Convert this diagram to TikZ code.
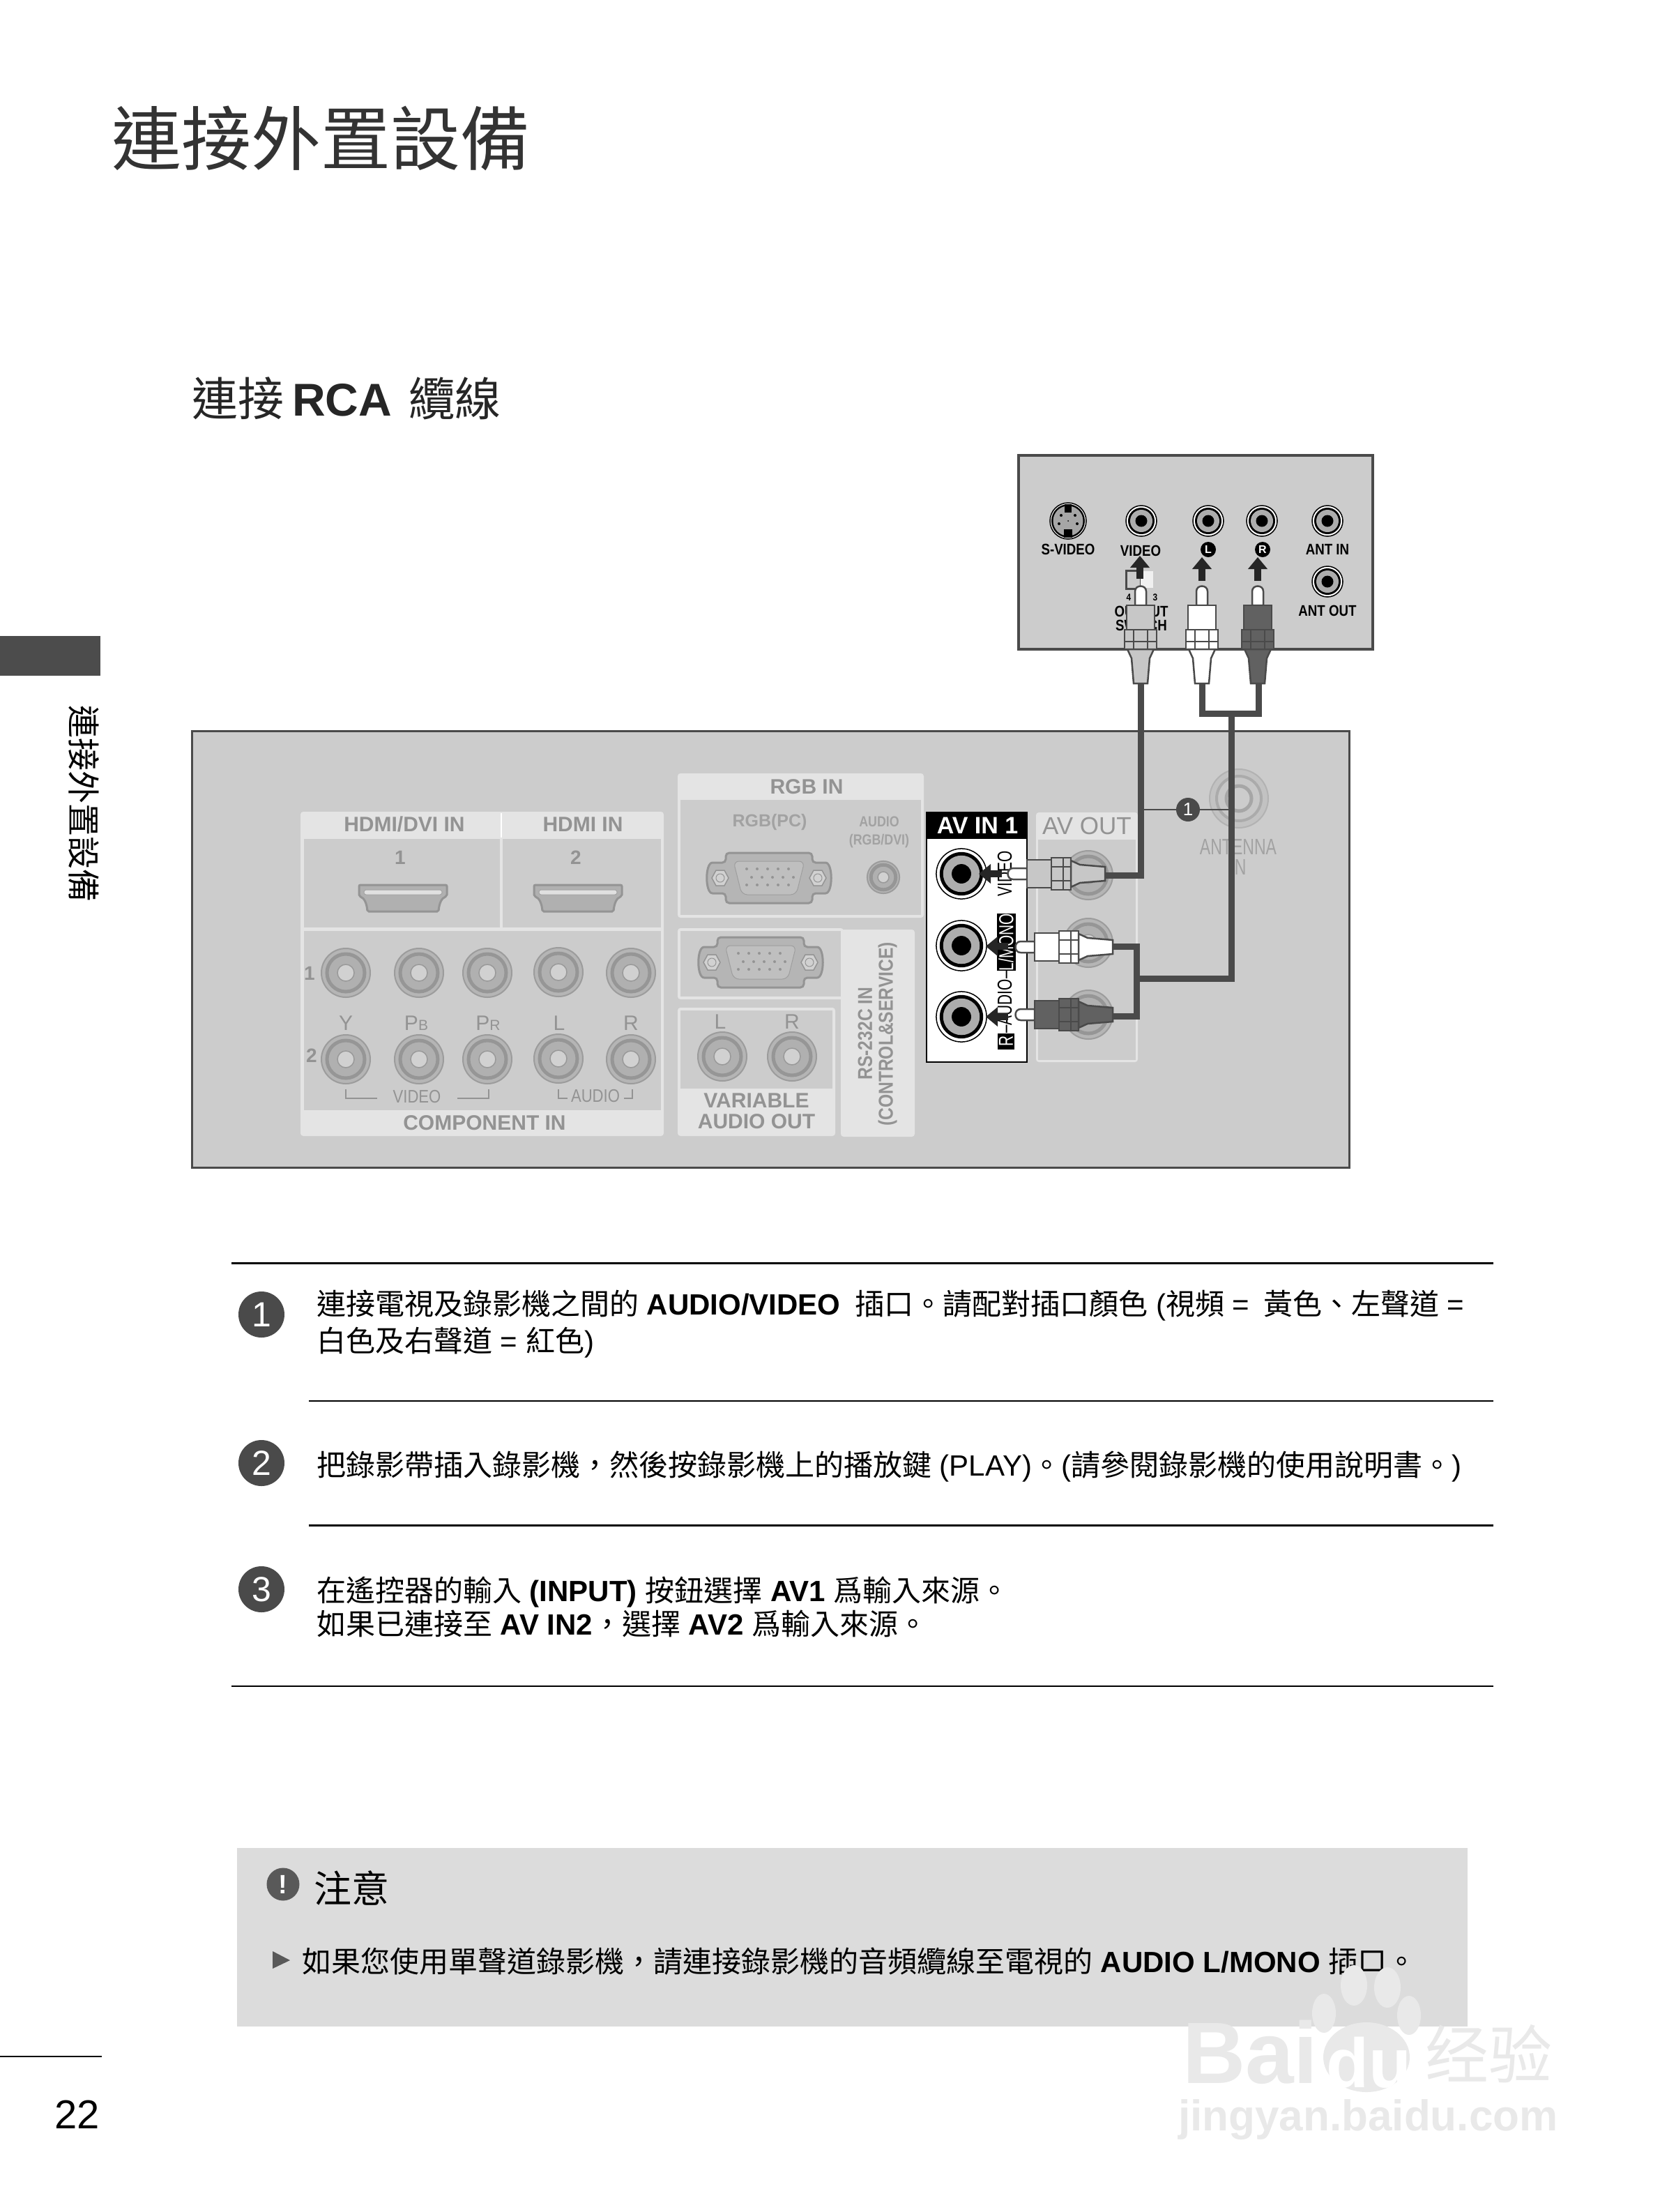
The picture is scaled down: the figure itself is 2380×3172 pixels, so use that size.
\documentclass[tikz,border=0pt]{standalone}
\usepackage{fontspec}
\setmainfont{Liberation Sans}
\newfontfamily\narrowfont[FakeStretch=0.85]{Liberation Sans}
\newfontfamily\tallfont[FakeStretch=0.72]{Liberation Sans}
\newfontfamily\cjkfont{Noto Sans CJK TC}
\usetikzlibrary{arrows.meta}

\newcommand{\zh}[1]{{\cjkfont #1}}
\newcommand{\fsz}[1]{\fontsize{#1}{#1}\selectfont}

\definecolor{panelgrey}{HTML}{CCCCCC}
\definecolor{bandgrey}{HTML}{E4E4E4}
\definecolor{inkgrey}{HTML}{4A4A4A}
\definecolor{faintink}{HTML}{939393}
\definecolor{paleink}{HTML}{A2A2A2}
\definecolor{notegrey}{HTML}{DCDCDC}
\definecolor{markgrey}{HTML}{E9E9E9}

\tikzset{
    band/.style={fill=bandgrey, rounded corners=4pt},
    well/.style={fill=panelgrey},
    rulethin/.style={draw=black, line width=1.5pt},
    rulethick/.style={draw=black, line width=3pt},
    cable/.style={draw=inkgrey, line width=9pt},
    bigarrow/.style={draw=black!85, line width=10pt, -{Triangle[length=17pt,width=27pt]}},
    stepmark/.style={circle, fill=inkgrey, text=white, minimum size=66pt, font=\fsz{50}},
    bodytext/.style={anchor=west, font=\fsz{42}},
    boldlabel/.style={text=faintink, font=\bfseries\fsz{30}},
    greylabel/.style={text=faintink, font=\fsz{30}},
    tvlabel/.style={text=black, font=\narrowfont\bfseries\fsz{22}},
    sidelabel/.style={rotate=90, font=\tallfont\fsz{29}},
    greyjack/.pic={
        \draw[fill=black!29, draw=black!39, line width=2pt] (0,0) circle[radius=35pt];
        \draw[fill=black!31, draw=black!41, line width=5pt] (0,0) circle[radius=27pt];
        \draw[fill=black!18, draw=black!40, line width=1.5pt] (0,0) circle[radius=12pt];
    },
    blackjack/.pic={
        \draw[fill=white, draw=black, line width=1.5pt] (0,0) circle[radius=22pt];
        \fill[black] (0,0) circle[radius=19pt];
        \fill[black!32] (0,0) circle[radius=16pt];
        \fill[black] (0,0) circle[radius=8.5pt];
    },
    svideojack/.pic={
        \draw[fill=white, draw=black, line width=1.5pt] (0,0) circle[radius=26pt];
        \fill[black] (0,0) circle[radius=24pt];
        \fill[black!35] (0,0) circle[radius=21.5pt];
        \fill[black] (-5,-24) rectangle (5,-12);
        \fill[black] (-6,12) rectangle (6,24);
        \fill[black] (-10,-8) circle[radius=2pt] (10,-8) circle[radius=2pt]
            (-13,4) circle[radius=2pt] (13,4) circle[radius=2pt] (0,0) circle[radius=1pt];
    },
    antennajack/.pic={
        \draw[fill=black!24, draw=black!30, line width=2pt] (0,0) circle[radius=42pt];
        \draw[fill=black!22, draw=black!33, line width=4pt] (0,0) circle[radius=32pt];
        \draw[fill=black!20, draw=black!35, line width=5pt] (0,0) circle[radius=18pt];
    },
    hdmiport/.pic={
        \draw[fill=black!31, draw=black!42, line width=3pt, rounded corners=2pt]
            (-63,-19) -- (63,-19) -- (63,-3) .. controls (55,0) and (52,8) .. (51,19)
            -- (-51,19) .. controls (-52,8) and (-55,0) .. (-63,-3) -- cycle;
        \draw[fill=black!12, draw=black!36, line width=1pt, rounded corners=3pt] (-56,-12) rectangle (56,-5);
    },
    dsubport/.pic={
        \draw[fill=black!29, draw=black!42, line width=3pt, rounded corners=5pt]
            (-62,-36) -- (62,-36) -- (62,-22) -- (76,-22) .. controls (92,-22) and (92,22) .. (76,22)
            -- (62,22) -- (62,36) -- (-62,36) -- (-62,22) -- (-76,22) .. controls (-92,22) and (-92,-22) .. (-76,-22)
            -- (-62,-22) -- cycle;
        \draw[fill=black!25, draw=black!38, line width=1pt, rounded corners=8pt]
            (-51,-24) -- (51,-24) -- (39,24) -- (-39,24) -- cycle;
        \fill[black!42]
            (-32,-13) circle[radius=2pt] (-17,-13) circle[radius=2pt] (-2,-13) circle[radius=2pt]
            (13,-13) circle[radius=2pt] (28,-13) circle[radius=2pt]
            (-25,-1) circle[radius=2pt] (-10,-1) circle[radius=2pt] (5,-1) circle[radius=2pt]
            (20,-1) circle[radius=2pt] (35,-1) circle[radius=2pt]
            (-32,10) circle[radius=2pt] (-17,10) circle[radius=2pt] (-2,10) circle[radius=2pt]
            (13,10) circle[radius=2pt] (28,10) circle[radius=2pt];
        \draw[fill=black!18, draw=black!42, line width=1.5pt]
            (-82,0) -- (-76,-11) -- (-64,-11) -- (-58,0) -- (-64,11) -- (-76,11) -- cycle;
        \draw[fill=black!18, draw=black!42, line width=1.5pt]
            (58,0) -- (64,-11) -- (76,-11) -- (82,0) -- (76,11) -- (64,11) -- cycle;
        \draw[draw=black!42, line width=1pt] (-70,0) circle[radius=6pt] (70,0) circle[radius=6pt];
    },
    rcaplug/.pic={
        \draw[fill=white, draw=inkgrey, line width=2.5pt]
            (-8,28) -- (-8,8) .. controls (-8,-2) and (8,-2) .. (8,8) -- (8,28) -- cycle;
        \draw[fill=#1, draw=inkgrey, line width=2.5pt] (-20,28) rectangle (20,63);
        \draw[fill=#1, draw=inkgrey, line width=2.5pt] (-23,63) rectangle (23,80);
        \draw[fill=#1, draw=inkgrey, line width=2.5pt] (-23,80) rectangle (23,91);
        \draw[draw=inkgrey, line width=1.5pt] (-10,63) -- (-10,91) (10,63) -- (10,91);
        \draw[fill=#1, draw=inkgrey, line width=2.5pt] (-19,91) -- (19,91) -- (13,104) -- (10,140) -- (-10,140) -- (-13,104) -- cycle;
    }
}

\begin{document}
\begin{tikzpicture}[x=1pt, y=-1pt, every node/.style={inner sep=0pt}]
    \useasboundingbox (0,0) rectangle (2380,3172);

    % page furniture
    \node[anchor=west, text=black!80, font=\fsz{100}] (pagetitle) at (160,198) {\zh{連接外置設備}};
    \node[anchor=west, text=black!85, font=\fsz{66}] (sectiontitle) at (275,571) {\zh{連接}\hspace{12pt}\textbf{RCA}\hspace{24pt}\zh{纜線}};
    \fill[black!70] (0,912) rectangle (144,969);
    \node[rotate=-90, font=\fsz{47}] (sidetitle) at (120,1152) {\zh{連接外置設備}};
    \draw[rulethin] (0,2949) -- (146,2949);
    \node[font=\fsz{58}] (pagenumber) at (111,3032) {22};

    % video recorder
    \draw[fill=panelgrey, draw=inkgrey, line width=4pt] (1461,653) rectangle (1969,931);
    \pic (vcrsvideo) at (1532,747) {svideojack};
    \pic (vcrvideo) at (1637,747) {blackjack};
    \pic (vcrleft) at (1733,747) {blackjack};
    \pic (vcrright) at (1810,747) {blackjack};
    \pic (vcrantin) at (1904,747) {blackjack};
    \pic (vcrantout) at (1904,834) {blackjack};
    \node[tvlabel] (svideolabel) at (1532,788) {S-VIDEO};
    \node[tvlabel] (videolabel) at (1636,790) {VIDEO};
    \node[tvlabel] (antinlabel) at (1904,788) {ANT IN};
    \node[tvlabel] (antoutlabel) at (1904,876) {ANT OUT};
    \node[circle, fill=black, text=white, minimum size=22pt, font=\bfseries\fsz{16}] (leftbadge) at (1733,788) {L};
    \node[circle, fill=black, text=white, minimum size=22pt, font=\bfseries\fsz{16}] (rightbadge) at (1811,788) {R};
    \draw[fill=panelgrey, draw=inkgrey, line width=3pt] (1615,818) rectangle (1636,844);
    \fill[black!6] (1636,819) rectangle (1654,843);
    \node[font=\bfseries\narrowfont\fsz{14}] (switchfour) at (1619,857) {4};
    \node[font=\bfseries\narrowfont\fsz{14}] (switchthree) at (1657,857) {3};
    \node[tvlabel] (outputlabel) at (1637,877) {OUTPUT};
    \node[tvlabel] (switchlabel) at (1637,897) {SWITCH};

    % television back panel
    \draw[fill=panelgrey, draw=inkgrey, line width=3pt] (275,1048) rectangle (1935,1674);

    \fill[band] (431,1164) rectangle (952,1629);
    \fill[well] (436,1203) rectangle (717,1330);
    \fill[well] (721,1203) rectangle (948,1330);
    \fill[well] (436,1335) rectangle (948,1592);
    \draw[draw=white, line width=2pt] (719,1166) -- (719,1201);
    \node[boldlabel] (hdmidvilabel) at (580,1182) {HDMI/DVI IN};
    \node[boldlabel] (hdmilabel) at (836,1182) {HDMI IN};
    \node[boldlabel, font=\bfseries\fsz{28}] (hdmione) at (574,1230) {1};
    \node[boldlabel, font=\bfseries\fsz{28}] (hdmitwo) at (826,1230) {2};
    \pic (hdmiportone) at (578,1288) {hdmiport};
    \pic (hdmiporttwo) at (829,1288) {hdmiport};

    \pic (compaone) at (496,1395) {greyjack};
    \pic (compbone) at (601,1395) {greyjack};
    \pic (compcone) at (699,1395) {greyjack};
    \pic (compdone) at (801,1394) {greyjack};
    \pic (compeone) at (905,1395) {greyjack};
    \pic (compatwo) at (496,1519) {greyjack};
    \pic (compbtwo) at (601,1519) {greyjack};
    \pic (compctwo) at (699,1519) {greyjack};
    \pic (compdtwo) at (801,1518) {greyjack};
    \pic (competwo) at (905,1519) {greyjack};
    \node[boldlabel, font=\bfseries\fsz{28}] (rowone) at (444,1396) {1};
    \node[boldlabel, font=\bfseries\fsz{28}] (rowtwo) at (447,1514) {2};
    \node[greylabel] (ylabel) at (496,1467) {Y};
    \node[greylabel] (pblabel) at (597,1467) {P{\fsz{21}B}};
    \node[greylabel] (prlabel) at (700,1467) {P{\fsz{21}R}};
    \node[greylabel] (llabel) at (802,1467) {L};
    \node[greylabel] (rlabel) at (905,1467) {R};
    \coordinate (videobracketa) at (496,1562);
    \coordinate (videobracketb) at (496,1575);
    \coordinate (videobracketc) at (541,1575);
    \coordinate (videobracketd) at (656,1575);
    \coordinate (videobrackete) at (701,1575);
    \coordinate (videobracketf) at (701,1562);
    \coordinate (audiobracketa) at (801,1562);
    \coordinate (audiobracketb) at (801,1575);
    \coordinate (audiobracketc) at (814,1575);
    \coordinate (audiobracketd) at (895,1575);
    \coordinate (audiobrackete) at (907,1575);
    \coordinate (audiobracketf) at (907,1562);
    \draw[draw=faintink, line width=1.5pt] (videobracketa) -- (videobracketb) -- (videobracketc);
    \draw[draw=faintink, line width=1.5pt] (videobracketd) -- (videobrackete) -- (videobracketf);
    \draw[draw=faintink, line width=2.5pt] (audiobracketa) -- (audiobracketb) -- (audiobracketc);
    \draw[draw=faintink, line width=2.5pt] (audiobracketd) -- (audiobrackete) -- (audiobracketf);
    \node[text=faintink, font=\narrowfont\fsz{26}] (compvideo) at (598,1573) {VIDEO};
    \node[text=faintink, font=\narrowfont\fsz{26}] (compaudio) at (854,1572) {AUDIO};
    \node[boldlabel] (complabel) at (695,1610) {COMPONENT IN};

    \fill[band] (972,1109) rectangle (1325,1316);
    \fill[well] (976,1147) rectangle (1321,1312);
    \node[boldlabel] (rgbinlabel) at (1157,1128) {RGB IN};
    \node[text=paleink, font=\bfseries\fsz{25}] (rgbpclabel) at (1104,1179) {RGB(PC)};
    \node[text=paleink, font=\bfseries\narrowfont\fsz{21}] (rgbaudio) at (1261,1178) {AUDIO};
    \node[text=paleink, font=\bfseries\narrowfont\fsz{21}] (rgbdvi) at (1261,1206) {(RGB/DVI)};
    \pic (rgbport) at (1103,1259) {dsubport};
    \pic[scale=.66] (rgbjack) at (1267,1258) {greyjack};

    \fill[band] (972,1331) rectangle (1210,1433);
    \fill[well] (976,1335) rectangle (1206,1429);
    \pic (serialport) at (1091,1380) {dsubport};

    \fill[band] (1206,1333) rectangle (1312,1630);
    \node[rotate=90, text=faintink, font=\narrowfont\bfseries\fsz{29}] (rslabel) at (1241,1482) {RS-232C IN};
    \node[rotate=90, text=faintink, font=\narrowfont\bfseries\fsz{29}] (controllabel) at (1273,1483) {(CONTROL\&SERVICE)};

    \fill[band] (972,1445) rectangle (1198,1629);
    \fill[well] (976,1449) rectangle (1194,1561);
    \node[greylabel] (varleft) at (1033,1465) {L};
    \node[greylabel] (varright) at (1136,1465) {R};
    \pic (varjackleft) at (1036,1515) {greyjack};
    \pic (varjackright) at (1136,1515) {greyjack};
    \node[boldlabel] (varlabel) at (1085,1578) {VARIABLE};
    \node[boldlabel] (audiooutlabel) at (1085,1608) {AUDIO OUT};

    % av out and antenna
    \fill[band] (1486,1165) rectangle (1632,1523);
    \fill[well] (1489,1204) rectangle (1629,1520);
    \node[text=faintink, font=\fsz{35}] (avoutlabel) at (1559,1184) {AV OUT};
    \pic (avoutvideo) at (1561,1255) {greyjack};
    \pic (avoutleft) at (1561,1352) {greyjack};
    \pic (avoutright) at (1561,1455) {greyjack};
    \pic (antennaport) at (1777,1145) {antennajack};
    \node[text=paleink, font=\tallfont\fsz{32}] (antennalabel) at (1776,1214) {ANTENNA};
    \node[text=paleink, font=\tallfont\fsz{32}] (antennain) at (1776,1243) {IN};

    % av in
    \draw[fill=white, draw=black, line width=2.5pt] (1329,1165) rectangle (1473,1523);
    \fill[black] (1329,1165) rectangle (1473,1203);
    \node[text=white, font=\bfseries\fsz{34}] (avinlabel) at (1402,1184) {AV IN 1};
    \pic[scale=1.64] (avinvideo) at (1379,1253) {blackjack};
    \pic[scale=1.64] (avinleft) at (1379,1356) {blackjack};
    \pic[scale=1.64] (avinright) at (1379,1458) {blackjack};
    \node[sidelabel] (invideolabel) at (1441,1253) {VIDEO};
    \node[sidelabel, fill=black, text=white, minimum height=27pt, minimum width=82pt] (inmonolabel) at (1443,1351) {L/MONO};
    \node[sidelabel] (inaudiolabel) at (1441,1437) {–AUDIO–};
    \node[sidelabel, fill=black, text=white, minimum height=24pt, minimum width=23pt] (inrightlabel) at (1443,1493) {R};

    % cables
    \coordinate (videotail) at (1636,980);
    \coordinate (videobend) at (1636,1255);
    \coordinate (videohead) at (1586,1255);
    \coordinate (lefttail) at (1724,980);
    \coordinate (leftbend) at (1724,1023);
    \coordinate (rightbend) at (1805,1023);
    \coordinate (righttail) at (1805,980);
    \coordinate (stemtop) at (1766,1023);
    \coordinate (stembend) at (1766,1403);
    \coordinate (stemend) at (1630,1403);
    \coordinate (whitehead) at (1595,1357);
    \coordinate (whitebend) at (1630,1357);
    \coordinate (redbend) at (1630,1457);
    \coordinate (redhead) at (1595,1457);
    \draw[cable] (videotail) -- (videobend) -- (videohead);
    \draw[cable] (lefttail) -- (leftbend) -- (rightbend) -- (righttail);
    \draw[cable] (stemtop) -- (stembend) -- (stemend);
    \draw[cable] (whitehead) -- (whitebend) -- (redbend) -- (redhead);

    % leader
    \node[circle, fill=inkgrey, text=white, minimum size=34pt, font=\fsz{26}] (leaderbadge) at (1704,1161) {1};
    \draw[draw=inkgrey, line width=2pt] (videobend |- leaderbadge) -- (leaderbadge) -- (stemtop |- leaderbadge);

    % plugs
    \pic (plugtopvideo) at (1636,840) {rcaplug=black!22};
    \pic (plugtopleft) at (1724,840) {rcaplug=white};
    \pic (plugtopright) at (1804,840) {rcaplug=black!62};
    \pic[rotate=90] (plugsidevideo) at (1445,1253) {rcaplug=black!22};
    \pic[rotate=90] (plugsideleft) at (1456,1358) {rcaplug=white};
    \pic[rotate=90] (plugsideright) at (1456,1455) {rcaplug=black!62};

    % arrows
    \coordinate (vcrvideotail) at (1635,830);
    \coordinate (vcrvideotip) at (1635,797);
    \coordinate (vcrlefttail) at (1724,833);
    \coordinate (vcrlefttip) at (1724,799);
    \coordinate (vcrrighttail) at (1804,833);
    \coordinate (vcrrighttip) at (1804,799);
    \coordinate (invideotail) at (1437,1253);
    \coordinate (invideotip) at (1404,1253);
    \coordinate (inlefttail) at (1446,1357);
    \coordinate (inlefttip) at (1414,1357);
    \coordinate (inrighttail) at (1446,1458);
    \coordinate (inrighttip) at (1414,1458);
    \draw[bigarrow] (vcrvideotail) -- (vcrvideotip);
    \draw[bigarrow] (vcrlefttail) -- (vcrlefttip);
    \draw[bigarrow] (vcrrighttail) -- (vcrrighttip);
    \draw[bigarrow] (invideotail) -- (invideotip);
    \draw[bigarrow] (inlefttail) -- (inlefttip);
    \draw[bigarrow] (inrighttail) -- (inrighttip);

    % steps
    \draw[rulethick] (332,1811) -- (2142,1811);
    \draw[rulethin] (443,2009) -- (2142,2009);
    \draw[rulethick] (443,2187) -- (2142,2187);
    \draw[rulethin] (332,2418) -- (2142,2418);
    \node[stepmark] (stepone) at (375,1885) {1};
    \node[stepmark] (steptwo) at (375,2098) {2};
    \node[stepmark] (stepthree) at (375,2279) {3};
    \node[bodytext] (stepontext) at (454,1872) {\zh{連接電視及錄影機之間的} \textbf{AUDIO/VIDEO} \zh{ 插口。請配對插口顏色} (\zh{視頻} = \hspace{8pt}\zh{黃色、左聲道} =};
    \node[bodytext] (steponmore) at (454,1925) {\zh{白色及右聲道} = \zh{紅色})};
    \node[bodytext] (steptwotext) at (454,2103) {\zh{把錄影帶插入錄影機，然後按錄影機上的播放鍵} (PLAY)\zh{。}(\zh{請參閱錄影機的使用說明書。})};
    \node[bodytext] (stepthreetext) at (454,2283) {\zh{在遙控器的輸入} \textbf{(INPUT)} \zh{按鈕選擇} \textbf{AV1} \zh{爲輸入來源。}};
    \node[bodytext] (stepthreemore) at (454,2328) {\zh{如果已連接至} \textbf{AV IN2}\zh{，選擇} \textbf{AV2} \zh{爲輸入來源。}};

    % note
    \fill[notegrey] (340,2650) rectangle (2105,2906);
    \node[circle, fill=black!65, text=white, minimum size=47pt, font=\bfseries\fsz{38}] (notemark) at (406,2702) {!};
    \node[anchor=west, font=\fsz{54}] (notetitle) at (450,2707) {\zh{注意}};
    \fill[black!65] (391,2798) -- (416,2811) -- (391,2823) -- cycle;
    \node[bodytext] (notetext) at (433,2813) {\zh{如果您使用單聲道錄影機，請連接錄影機的音頻纜線至電視的} \textbf{AUDIO L/MONO} \zh{插口。}};

    % watermark
    \fill[markgrey] (1942,2847) ellipse[x radius=19pt, y radius=29pt];
    \fill[markgrey] (1990,2850) ellipse[x radius=19pt, y radius=29pt];
    \fill[markgrey] (1899,2887) ellipse[x radius=17pt, y radius=28pt];
    \fill[markgrey] (2021,2890) ellipse[x radius=17pt, y radius=28pt];
    \fill[markgrey] (1960,2950) ellipse[x radius=62pt, y radius=50pt];
    \node[anchor=west, text=markgrey, font=\bfseries\fsz{125}] (markbai) at (1696,2943) {Bai};
    \node[anchor=west, text=white, font=\bfseries\fsz{100}] (markdu) at (1902,2958) {du};
    \node[anchor=west, text=markgrey, font=\fsz{91}] (markjy) at (2044,2945) {\zh{经验}};
    \node[anchor=west, text=markgrey, font=\bfseries\fsz{62}] (markurl) at (1690,3040) {jingyan.baidu.com};
\end{tikzpicture}
\end{document}
